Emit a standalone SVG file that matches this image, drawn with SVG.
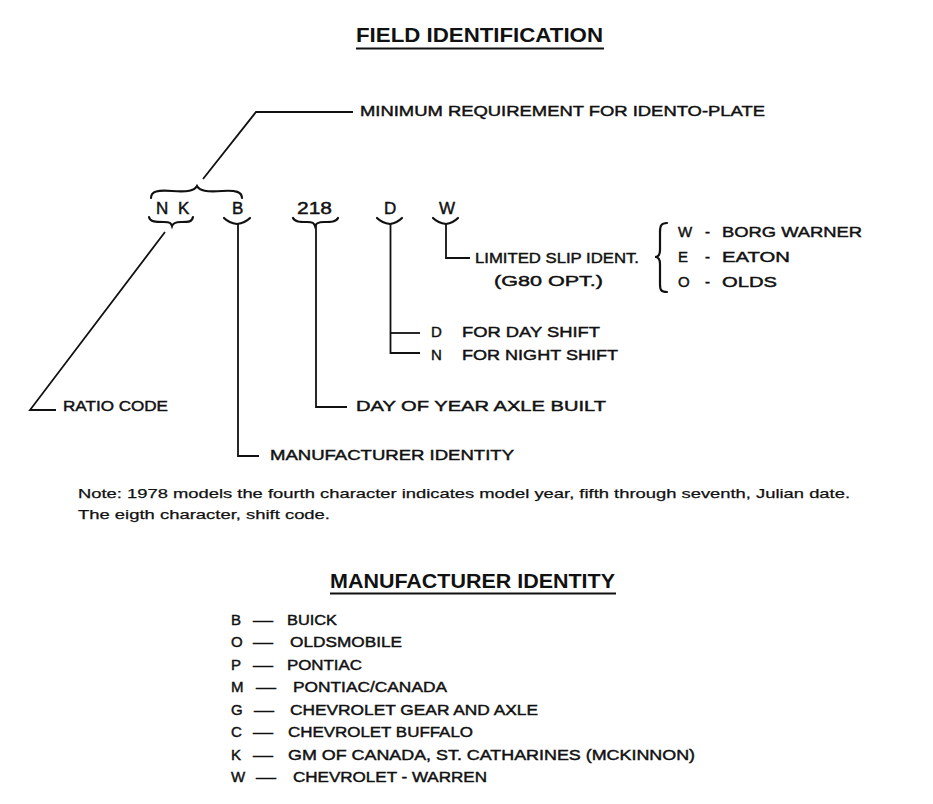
<svg xmlns="http://www.w3.org/2000/svg" width="933" height="804" viewBox="0 0 933 804">
<style>
.t{font-family:"Liberation Sans",Arial,sans-serif;font-size:15px;fill:#111;stroke:#111;stroke-width:0.45}
.c{font-size:17px}
.n{font-size:13.5px;stroke-width:0.25}
.h{font-family:"Liberation Sans",Arial,sans-serif;font-size:20px;font-weight:bold;fill:#111}
.ln{fill:none;stroke:#111;stroke-width:1.8}
.br{fill:none;stroke:#111;stroke-width:2.2;stroke-linecap:round}
</style>
<rect width="933" height="804" fill="#fff"/>

<g id="title">
<text class="h" x="356" y="42" textLength="247" lengthAdjust="spacingAndGlyphs">FIELD IDENTIFICATION</text>
<line class="ln" x1="356" y1="48.5" x2="604" y2="48.5" stroke-width="2"/>
</g>

<g id="code">
<text class="t c" x="156" y="214">N</text>
<text class="t c" x="178" y="214">K</text>
<text class="t c" x="232" y="214">B</text>
<text class="t c" x="297" y="214" textLength="35" lengthAdjust="spacingAndGlyphs">218</text>
<text class="t c" x="384" y="214">D</text>
<text class="t c" x="439" y="214">W</text>
</g>

<g id="braces">
<path class="br" stroke-width="3" d="M151,198 C151,191 158,190 172,191 C188,192 194,191 197,186 C200,191 206,192 222,191 C236,190 242,192 242,198"/>
<path class="br" d="M149,217 C150,222 156,222 164,222 C170,222 171,223 172,226 C173,223 175,222 181,222 C189,222 192,222 193,217"/>
<path class="br" d="M224,218 Q229,223 237,224 Q245,223 250,218"/>
<path class="br" stroke-width="2.5" d="M293,218 C295,222 300,222 307,222 C313,222 314,223 315,226 C316,223 318,222 324,222 C331,222 336,222 338,218"/>
<path class="br" d="M377,218 Q382,223 390,224 Q397,223 402,218"/>
<path class="br" d="M433,218 Q438,223 446,224 Q453,223 458,218"/>
<path class="br" stroke-width="2.8" d="M667,223 C661,223 660,226 660,232 L660,250 C660,255 658,257 655,257 C658,257 660,259 660,264 L660,284 C660,290 661,292 667,292"/>
</g>

<g id="connectors">
<polyline class="ln" points="203,179 256,112 353,112"/>
<polyline class="ln" points="165,232 30,410 56,410"/>
<polyline class="ln" points="238,224 238,456 259,456"/>
<polyline class="ln" points="316,225 316,407 347,407"/>
<polyline class="ln" points="390.5,224 390.5,353 420,353"/>
<line class="ln" x1="390.5" y1="333" x2="420" y2="333"/>
<polyline class="ln" points="446,224 446,258 470,258"/>
</g>

<g id="label-minimum">
<text class="t" x="360" y="116" textLength="405" lengthAdjust="spacingAndGlyphs">MINIMUM REQUIREMENT FOR IDENTO-PLATE</text>
</g>
<g id="label-ratio">
<text class="t" x="63" y="411" textLength="105" lengthAdjust="spacingAndGlyphs">RATIO CODE</text>
</g>
<g id="label-manufacturer">
<text class="t" x="270" y="460" textLength="244" lengthAdjust="spacingAndGlyphs">MANUFACTURER IDENTITY</text>
</g>
<g id="label-day">
<text class="t" x="356" y="411" textLength="250" lengthAdjust="spacingAndGlyphs">DAY OF YEAR AXLE BUILT</text>
</g>
<g id="label-shift">
<text class="t" x="431" y="337">D</text>
<text class="t" x="462" y="337" textLength="138" lengthAdjust="spacingAndGlyphs">FOR DAY SHIFT</text>
<text class="t" x="431" y="360">N</text>
<text class="t" x="462" y="360" textLength="156" lengthAdjust="spacingAndGlyphs">FOR NIGHT SHIFT</text>
</g>
<g id="label-limited">
<text class="t" x="475" y="263" textLength="164" lengthAdjust="spacingAndGlyphs">LIMITED SLIP IDENT.</text>
<text class="t" x="494" y="286" textLength="109" lengthAdjust="spacingAndGlyphs">(G80 OPT.)</text>
</g>
<g id="label-makers">
<text class="t" x="678" y="237">W</text>
<text class="t" x="705" y="237">-</text>
<text class="t" x="722" y="237" textLength="140" lengthAdjust="spacingAndGlyphs">BORG WARNER</text>
<text class="t" x="678" y="262">E</text>
<text class="t" x="705" y="262">-</text>
<text class="t" x="722" y="262" textLength="68" lengthAdjust="spacingAndGlyphs">EATON</text>
<text class="t" x="678" y="287">O</text>
<text class="t" x="705" y="287">-</text>
<text class="t" x="722" y="287" textLength="55" lengthAdjust="spacingAndGlyphs">OLDS</text>
</g>

<g id="note">
<text class="t n" x="78" y="498" textLength="772" lengthAdjust="spacingAndGlyphs">Note: 1978 models the fourth character indicates model year, fifth through seventh, Julian date.</text>
<text class="t n" x="78" y="519" textLength="252" lengthAdjust="spacingAndGlyphs">The eigth character, shift code.</text>
</g>

<g id="manufacturer-table">
<text class="h" x="330" y="588" textLength="285" lengthAdjust="spacingAndGlyphs">MANUFACTURER IDENTITY</text>
<line class="ln" x1="330" y1="593.5" x2="616" y2="593.5" stroke-width="2"/>
<text class="t" x="231" y="625">B</text><text class="t" x="253" y="625" textLength="20" lengthAdjust="spacingAndGlyphs">—</text><text class="t" x="287" y="625" textLength="50" lengthAdjust="spacingAndGlyphs">BUICK</text>
<text class="t" x="231" y="647">O</text><text class="t" x="253" y="647" textLength="20" lengthAdjust="spacingAndGlyphs">—</text><text class="t" x="290" y="647" textLength="112" lengthAdjust="spacingAndGlyphs">OLDSMOBILE</text>
<text class="t" x="231" y="670">P</text><text class="t" x="253" y="670" textLength="20" lengthAdjust="spacingAndGlyphs">—</text><text class="t" x="287" y="670" textLength="75" lengthAdjust="spacingAndGlyphs">PONTIAC</text>
<text class="t" x="231" y="692">M</text><text class="t" x="256" y="692" textLength="20" lengthAdjust="spacingAndGlyphs">—</text><text class="t" x="293" y="692" textLength="154" lengthAdjust="spacingAndGlyphs">PONTIAC/CANADA</text>
<text class="t" x="231" y="715">G</text><text class="t" x="254" y="715" textLength="20" lengthAdjust="spacingAndGlyphs">—</text><text class="t" x="290" y="715" textLength="248" lengthAdjust="spacingAndGlyphs">CHEVROLET GEAR AND AXLE</text>
<text class="t" x="231" y="737">C</text><text class="t" x="253" y="737" textLength="20" lengthAdjust="spacingAndGlyphs">—</text><text class="t" x="288" y="737" textLength="185" lengthAdjust="spacingAndGlyphs">CHEVROLET BUFFALO</text>
<text class="t" x="231" y="760">K</text><text class="t" x="253" y="760" textLength="20" lengthAdjust="spacingAndGlyphs">—</text><text class="t" x="288" y="760" textLength="407" lengthAdjust="spacingAndGlyphs">GM OF CANADA, ST. CATHARINES (MCKINNON)</text>
<text class="t" x="231" y="782">W</text><text class="t" x="256" y="782" textLength="20" lengthAdjust="spacingAndGlyphs">—</text><text class="t" x="293" y="782" textLength="194" lengthAdjust="spacingAndGlyphs">CHEVROLET - WARREN</text>
</g>
</svg>
